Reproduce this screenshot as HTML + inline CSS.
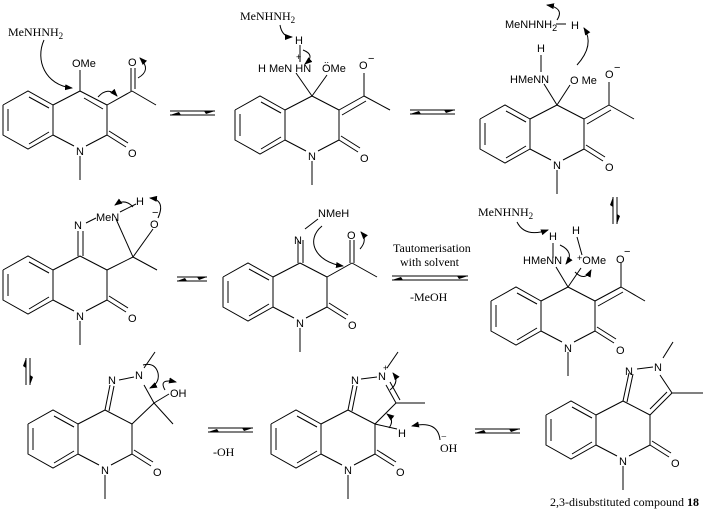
<!DOCTYPE html>
<html><head><meta charset="utf-8"><style>
html,body{margin:0;padding:0;background:#fff;}
svg{display:block;}
.s{font-family:"Liberation Sans",sans-serif;font-size:11px;}
.r{font-family:"Liberation Serif",serif;font-size:12px;}
</style></head><body>
<svg width="703" height="510" viewBox="0 0 703 510" xmlns="http://www.w3.org/2000/svg">
<defs>
<marker id="ah" markerWidth="8" markerHeight="6" refX="7" refY="3" orient="auto" markerUnits="userSpaceOnUse"><polygon points="0,0 8,3 0,6" fill="#000"/></marker>
</defs>

<g stroke="#000" stroke-width="1" fill="none">
<!-- cores -->
<g transform="translate(0,0)"><polyline points="3,105 28,91 53,105 53,135 28,149 3,135 3,105"/><line x1="29" y1="97" x2="49" y2="108"/><line x1="49" y1="132" x2="29" y2="144"/><line x1="8" y1="131" x2="8" y2="109"/><line x1="53" y1="105" x2="80" y2="91"/><line x1="107" y1="105" x2="107" y2="135"/><line x1="107" y1="135" x2="86" y2="146"/><line x1="74" y1="146" x2="53" y2="135"/><line x1="80" y1="156" x2="80" y2="180"/><line x1="107" y1="135" x2="126" y2="147"/><line x1="109" y1="131" x2="128" y2="143"/><line x1="80" y1="91" x2="107" y2="105"/></g>
<g transform="translate(232,5)"><polyline points="3,105 28,91 53,105 53,135 28,149 3,135 3,105"/><line x1="29" y1="97" x2="49" y2="108"/><line x1="49" y1="132" x2="29" y2="144"/><line x1="8" y1="131" x2="8" y2="109"/><line x1="53" y1="105" x2="80" y2="91"/><line x1="107" y1="105" x2="107" y2="135"/><line x1="107" y1="135" x2="86" y2="146"/><line x1="74" y1="146" x2="53" y2="135"/><line x1="80" y1="156" x2="80" y2="180"/><line x1="107" y1="135" x2="126" y2="147"/><line x1="109" y1="131" x2="128" y2="143"/><line x1="80" y1="91" x2="107" y2="105"/></g>
<g transform="translate(477,14)"><polyline points="3,105 28,91 53,105 53,135 28,149 3,135 3,105"/><line x1="29" y1="97" x2="49" y2="108"/><line x1="49" y1="132" x2="29" y2="144"/><line x1="8" y1="131" x2="8" y2="109"/><line x1="53" y1="105" x2="80" y2="91"/><line x1="107" y1="105" x2="107" y2="135"/><line x1="107" y1="135" x2="86" y2="146"/><line x1="74" y1="146" x2="53" y2="135"/><line x1="80" y1="156" x2="80" y2="180"/><line x1="107" y1="135" x2="126" y2="147"/><line x1="109" y1="131" x2="128" y2="143"/><line x1="80" y1="91" x2="107" y2="105"/></g>
<g transform="translate(0,165)"><polyline points="3,105 28,91 53,105 53,135 28,149 3,135 3,105"/><line x1="29" y1="97" x2="49" y2="108"/><line x1="49" y1="132" x2="29" y2="144"/><line x1="8" y1="131" x2="8" y2="109"/><line x1="53" y1="105" x2="80" y2="91"/><line x1="107" y1="105" x2="107" y2="135"/><line x1="107" y1="135" x2="86" y2="146"/><line x1="74" y1="146" x2="53" y2="135"/><line x1="80" y1="156" x2="80" y2="180"/><line x1="107" y1="135" x2="126" y2="147"/><line x1="109" y1="131" x2="128" y2="143"/><line x1="80" y1="91" x2="107" y2="105"/></g>
<g transform="translate(220,172)"><polyline points="3,105 28,91 53,105 53,135 28,149 3,135 3,105"/><line x1="29" y1="97" x2="49" y2="108"/><line x1="49" y1="132" x2="29" y2="144"/><line x1="8" y1="131" x2="8" y2="109"/><line x1="53" y1="105" x2="80" y2="91"/><line x1="107" y1="105" x2="107" y2="135"/><line x1="107" y1="135" x2="86" y2="146"/><line x1="74" y1="146" x2="53" y2="135"/><line x1="80" y1="156" x2="80" y2="180"/><line x1="107" y1="135" x2="126" y2="147"/><line x1="109" y1="131" x2="128" y2="143"/><line x1="80" y1="91" x2="107" y2="105"/></g>
<g transform="translate(488,196)"><polyline points="3,105 28,91 53,105 53,135 28,149 3,135 3,105"/><line x1="29" y1="97" x2="49" y2="108"/><line x1="49" y1="132" x2="29" y2="144"/><line x1="8" y1="131" x2="8" y2="109"/><line x1="53" y1="105" x2="80" y2="91"/><line x1="107" y1="105" x2="107" y2="135"/><line x1="107" y1="135" x2="86" y2="146"/><line x1="74" y1="146" x2="53" y2="135"/><line x1="80" y1="156" x2="80" y2="180"/><line x1="107" y1="135" x2="126" y2="147"/><line x1="109" y1="131" x2="128" y2="143"/><line x1="80" y1="91" x2="107" y2="105"/></g>
<g transform="translate(25,319)"><polyline points="3,105 28,91 53,105 53,135 28,149 3,135 3,105"/><line x1="29" y1="97" x2="49" y2="108"/><line x1="49" y1="132" x2="29" y2="144"/><line x1="8" y1="131" x2="8" y2="109"/><line x1="53" y1="105" x2="80" y2="91"/><line x1="107" y1="105" x2="107" y2="135"/><line x1="107" y1="135" x2="86" y2="146"/><line x1="74" y1="146" x2="53" y2="135"/><line x1="80" y1="156" x2="80" y2="180"/><line x1="107" y1="135" x2="126" y2="147"/><line x1="109" y1="131" x2="128" y2="143"/><line x1="80" y1="91" x2="107" y2="105"/></g>
<g transform="translate(268,319)"><polyline points="3,105 28,91 53,105 53,135 28,149 3,135 3,105"/><line x1="29" y1="97" x2="49" y2="108"/><line x1="49" y1="132" x2="29" y2="144"/><line x1="8" y1="131" x2="8" y2="109"/><line x1="53" y1="105" x2="80" y2="91"/><line x1="107" y1="105" x2="107" y2="135"/><line x1="107" y1="135" x2="86" y2="146"/><line x1="74" y1="146" x2="53" y2="135"/><line x1="80" y1="156" x2="80" y2="180"/><line x1="107" y1="135" x2="126" y2="147"/><line x1="109" y1="131" x2="128" y2="143"/><line x1="80" y1="91" x2="107" y2="105"/></g>
<g transform="translate(543,310)"><polyline points="3,105 28,91 53,105 53,135 28,149 3,135 3,105"/><line x1="29" y1="97" x2="49" y2="108"/><line x1="49" y1="132" x2="29" y2="144"/><line x1="8" y1="131" x2="8" y2="109"/><line x1="53" y1="105" x2="80" y2="91"/><line x1="107" y1="105" x2="107" y2="135"/><line x1="107" y1="135" x2="86" y2="146"/><line x1="74" y1="146" x2="53" y2="135"/><line x1="80" y1="156" x2="80" y2="180"/><line x1="107" y1="135" x2="126" y2="147"/><line x1="109" y1="131" x2="128" y2="143"/><line x1="80" y1="91" x2="107" y2="105"/></g>

<!-- M1 -->
<line x1="84" y1="98" x2="103" y2="109"/>
<line x1="80" y1="91" x2="80" y2="70"/>
<line x1="107" y1="105" x2="132" y2="91"/>
<line x1="132" y1="91" x2="156" y2="105"/>
<line x1="131" y1="91" x2="131" y2="68"/>
<line x1="135" y1="89" x2="135" y2="68"/>
<path d="M44,40 C35,60 45,85 72,88" marker-end="url(#ah)"/>
<path d="M98,97 Q108,86 117,96" marker-end="url(#ah)"/>
<path d="M138,78 Q152,70 140,58" marker-end="url(#ah)"/>

<!-- M2 -->
<line x1="312" y1="96" x2="296" y2="73"/>
<line x1="312" y1="96" x2="327" y2="75"/>
<line x1="339" y1="110" x2="364" y2="96"/>
<line x1="342" y1="115" x2="366" y2="101"/>
<line x1="364" y1="96" x2="364" y2="73"/>
<line x1="364" y1="96" x2="390" y2="110"/>
<line x1="300" y1="45" x2="300" y2="62"/>
<path d="M280,25 Q282,37 292,37" marker-end="url(#ah)"/>
<path d="M303,50 Q316,55 305,64" marker-end="url(#ah)"/>

<!-- M3 -->
<line x1="557" y1="105" x2="544" y2="84"/>
<line x1="557" y1="105" x2="570" y2="85"/>
<line x1="584" y1="119" x2="609" y2="105"/>
<line x1="587" y1="124" x2="611" y2="110"/>
<line x1="609" y1="105" x2="609" y2="82"/>
<line x1="609" y1="105" x2="634" y2="119"/>
<line x1="541" y1="55" x2="541" y2="72"/>
<line x1="556" y1="24" x2="566" y2="24"/>
<path d="M577,65 Q595,45 584,28" marker-end="url(#ah)"/>
<path d="M557,20 Q565,8 547,5" marker-end="url(#ah)"/>

<!-- M4 -->
<line x1="78" y1="256" x2="78" y2="231"/>
<line x1="83" y1="256" x2="83" y2="231"/>
<line x1="86" y1="223" x2="96" y2="218"/>
<line x1="116" y1="219" x2="133" y2="257"/>
<line x1="133" y1="257" x2="153" y2="229"/>
<line x1="107" y1="270" x2="133" y2="257"/>
<line x1="133" y1="257" x2="157" y2="270"/>
<line x1="120" y1="212" x2="136" y2="204"/>
<path d="M133,207 Q125,198 115,205" marker-end="url(#ah)"/>
<path d="M158,218 Q166,200 150,198" marker-end="url(#ah)"/>

<!-- M5 -->
<line x1="298" y1="263" x2="298" y2="240"/>
<line x1="303" y1="263" x2="303" y2="240"/>
<line x1="305" y1="229" x2="318" y2="219"/>
<line x1="327" y1="277" x2="352" y2="263"/>
<line x1="352" y1="263" x2="377" y2="277"/>
<line x1="350" y1="263" x2="350" y2="240"/>
<line x1="354" y1="263" x2="354" y2="240"/>
<path d="M322,226 C305,240 315,262 343,266" marker-end="url(#ah)"/>
<path d="M360,249 Q368,240 361,232" marker-end="url(#ah)"/>

<!-- M6 -->
<line x1="568" y1="287" x2="556" y2="267"/>
<line x1="568" y1="287" x2="581" y2="268"/>
<line x1="595" y1="301" x2="621" y2="287"/>
<line x1="598" y1="306" x2="623" y2="292"/>
<line x1="621" y1="287" x2="621" y2="263"/>
<line x1="621" y1="287" x2="645" y2="301"/>
<line x1="553" y1="243" x2="553" y2="258"/>
<line x1="577" y1="237" x2="582" y2="255"/>
<path d="M517,222 Q525,238 548,230" marker-end="url(#ah)"/>
<path d="M560,245 Q575,252 566,264" marker-end="url(#ah)"/>
<path d="M575,272 Q585,282 591,270" marker-end="url(#ah)"/>

<!-- M7 -->
<line x1="105" y1="410" x2="110" y2="385"/>
<line x1="109" y1="411" x2="114" y2="386"/>
<line x1="119" y1="380" x2="134" y2="377"/>
<line x1="144" y1="368" x2="155" y2="352"/>
<line x1="132" y1="424" x2="154" y2="403"/>
<line x1="154" y1="403" x2="144" y2="385"/>
<line x1="154" y1="403" x2="173" y2="424"/>
<line x1="154" y1="403" x2="169" y2="394"/>
<path d="M143,365 Q155,362 158,373 Q160,383 150,388" marker-end="url(#ah)"/>
<path d="M165,390 Q158,378 176,382" marker-end="url(#ah)"/>

<!-- M8 -->
<line x1="348" y1="410" x2="353" y2="385"/>
<line x1="352" y1="411" x2="357" y2="386"/>
<line x1="361" y1="379" x2="377" y2="377"/>
<line x1="387" y1="368" x2="398" y2="352"/>
<line x1="386" y1="385" x2="396" y2="403"/>
<line x1="390" y1="382" x2="400" y2="400"/>
<line x1="396" y1="403" x2="375" y2="424"/>
<line x1="396" y1="403" x2="425" y2="403"/>
<line x1="375" y1="424" x2="397" y2="429"/>
<path d="M390,390 Q400,382 393,373" marker-end="url(#ah)"/>
<path d="M389,428 Q395,420 387,414" marker-end="url(#ah)"/>
<path d="M440,440 Q438,420 412,426" marker-end="url(#ah)"/>

<!-- M9 -->
<line x1="623" y1="401" x2="629" y2="373"/>
<line x1="627" y1="402" x2="633" y2="374"/>
<line x1="637" y1="369" x2="653" y2="367"/>
<line x1="663" y1="358" x2="673" y2="342"/>
<line x1="660" y1="375" x2="672" y2="393"/>
<line x1="672" y1="393" x2="650" y2="415"/>
<line x1="667" y1="392" x2="650" y2="409"/>
<line x1="672" y1="393" x2="703" y2="393"/>

<!-- equilibrium arrows -->
<line x1="170" y1="111" x2="215" y2="111"/><line x1="170" y1="115" x2="215" y2="115"/>
<line x1="410" y1="110" x2="455" y2="110"/><line x1="410" y1="114" x2="455" y2="114"/>
<line x1="177" y1="277" x2="207" y2="277"/><line x1="177" y1="281" x2="207" y2="281"/>
<line x1="392" y1="276" x2="468" y2="276"/><line x1="392" y1="280" x2="468" y2="280"/>
<line x1="208" y1="428" x2="253" y2="428"/><line x1="208" y1="432" x2="253" y2="432"/>
<line x1="475" y1="429" x2="520" y2="429"/><line x1="475" y1="433" x2="520" y2="433"/>
<line x1="613" y1="197" x2="613" y2="224"/><line x1="617" y1="197" x2="617" y2="224"/>
<line x1="26" y1="358" x2="26" y2="385"/><line x1="30" y1="358" x2="30" y2="385"/>
</g>
<g fill="#000">
<polygon points="215,111 204,111 206,114"/><polygon points="170,115 181,115 179,112"/>
<polygon points="455,110 444,110 446,113"/><polygon points="410,114 421,114 419,111"/>
<polygon points="207,277 197,277 199,280"/><polygon points="177,281 187,281 185,278"/>
<polygon points="468,276 457,276 459,279"/><polygon points="392,280 403,280 401,277"/>
<polygon points="253,428 242,428 244,431"/><polygon points="208,432 219,432 217,429"/>
<polygon points="520,429 509,429 511,432"/><polygon points="475,433 486,433 484,430"/>
<polygon points="613,197 613,207 610,205"/><polygon points="617,224 617,214 620,216"/>
<polygon points="26,358 26,368 23,366"/><polygon points="30,385 30,375 33,377"/>
</g>

<!-- text -->
<g class="s" fill="#000">
<text x="76" y="155">N</text><text x="128" y="157">O</text>
<text x="72" y="67">OMe</text><text x="128" y="66">O</text>
<text x="308" y="160">N</text><text x="360" y="162">O</text>
<text x="258" y="72">H MeN HN</text><text x="296" y="60" font-size="9">+</text>
<text x="295" y="44">H</text>
<text x="322" y="72">OMe</text><text x="324" y="63" font-size="9">..</text>
<text x="359" y="69">O</text><text x="368" y="62">−</text>
<text x="553" y="169">N</text><text x="605" y="171">O</text>
<text x="510" y="83">HMeNN</text><text x="537" y="52">H</text>
<text x="570" y="84">O Me</text>
<text x="605" y="78">O</text><text x="614" y="71">−</text>
<text x="505" y="28">MeNHNH<tspan font-size="9" dy="3">2</tspan></text>
<text x="571" y="29">H</text>
<text x="76" y="320">N</text><text x="128" y="322">O</text>
<text x="74" y="229">N</text><text x="96" y="221">MeN</text>
<text x="136" y="205">H</text>
<text x="150" y="228">O</text><text x="152" y="216">−</text>
<text x="296" y="327">N</text><text x="348" y="329">O</text>
<text x="294" y="244">N</text><text x="318" y="217">NMeH</text>
<text x="347" y="239">O</text>
<text x="564" y="352">N</text><text x="616" y="354">O</text>
<text x="523" y="264">HMeNN</text><text x="549" y="240">H</text>
<text x="572" y="234">H</text>
<text x="577" y="264"><tspan font-size="9" dy="-3">+</tspan><tspan dy="3">OMe</tspan></text>
<text x="616" y="263">O</text><text x="624" y="255">−</text>
<text x="101" y="474">N</text><text x="153" y="476">O</text>
<text x="108" y="384">N</text><text x="135" y="379">N</text>
<text x="170" y="397">OH</text>
<text x="344" y="474">N</text><text x="396" y="476">O</text>
<text x="351" y="384">N</text><text x="378" y="380">N</text><text x="383" y="371" font-size="9">+</text>
<text x="398" y="437">H</text>
<text x="619" y="465">N</text><text x="671" y="467">O</text>
<text x="625" y="375">N</text><text x="654" y="371">N</text>
</g>
<g class="r" fill="#000">
<text x="8" y="36">MeNHNH<tspan font-size="9" dy="3">2</tspan></text>
<text x="240" y="20">MeNHNH<tspan font-size="9" dy="3">2</tspan></text>
<text x="478" y="216">MeNHNH<tspan font-size="9" dy="3">2</tspan></text>
<text x="393" y="252">Tautomerisation</text>
<text x="400" y="266">with solvent</text>
<text x="410" y="301">-MeOH</text>
<text x="213" y="456">-OH</text>
<text x="440" y="452">OH</text><text x="441" y="440" font-size="10">−</text>
<text x="550" y="506">2,3-disubstituted compound <tspan font-weight="bold">18</tspan></text>
</g>
</svg>
</body></html>
